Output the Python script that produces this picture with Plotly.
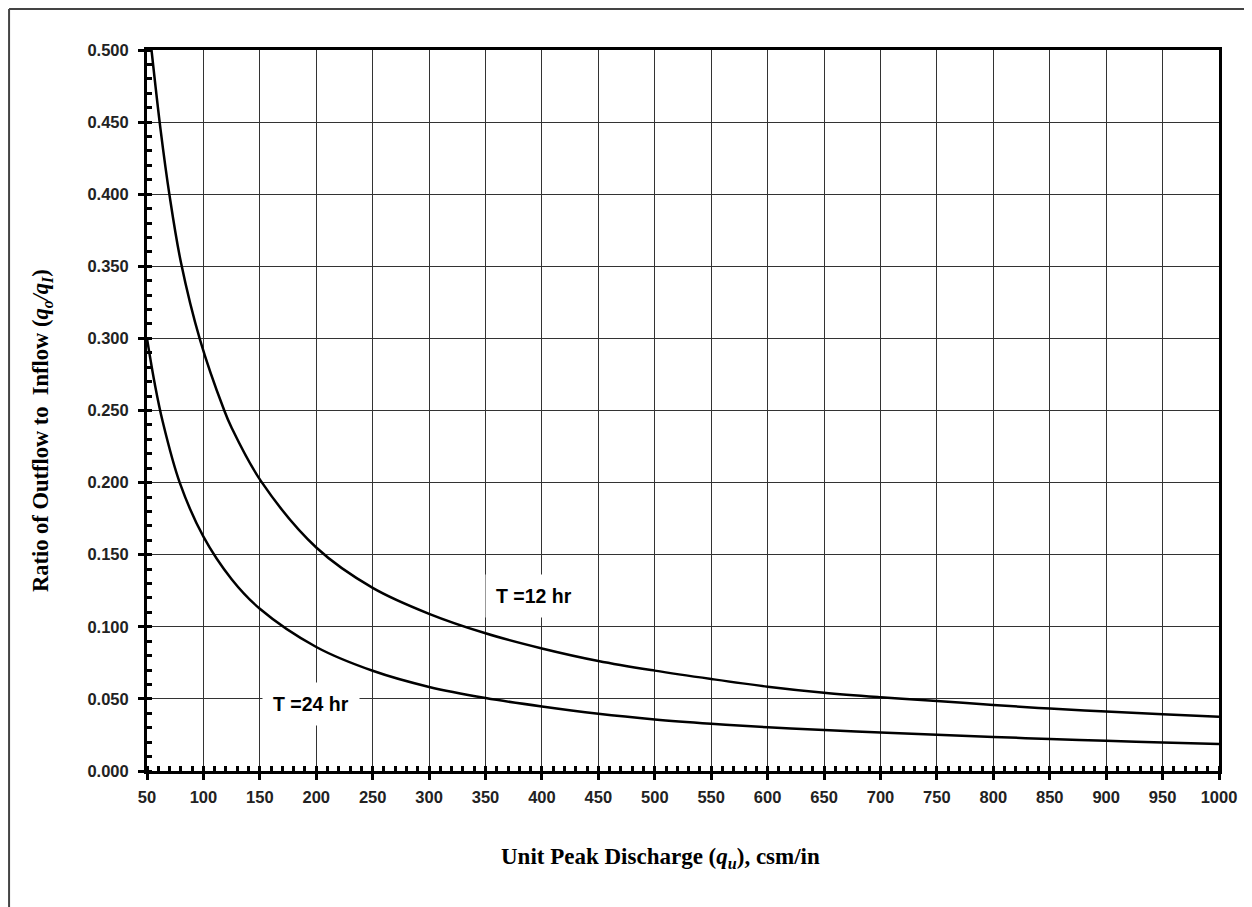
import plotly.graph_objects as go

# T = 12 hr curve
x12 = [54, 62, 70, 80, 97, 118, 125, 151, 200, 250, 300, 350, 400, 450, 500, 550,
       600, 650, 700, 750, 800, 850, 900, 950, 1000]
y12 = [0.500, 0.445, 0.399, 0.353, 0.299, 0.251, 0.238, 0.201, 0.155, 0.127, 0.109,
       0.0955, 0.085, 0.0763, 0.0696, 0.0638, 0.0585, 0.0543, 0.0512, 0.0486,
       0.0458, 0.0433, 0.0412, 0.0394, 0.0377]

# T = 24 hr curve
x24 = [50, 57, 64, 79, 100, 125, 150, 200, 250, 300, 350, 400, 450, 500, 550, 600,
       650, 700, 750, 800, 850, 900, 950, 1000]
y24 = [0.300, 0.268, 0.242, 0.200, 0.1625, 0.133, 0.1125, 0.0860, 0.0695, 0.0583, 0.0506,
       0.0447, 0.0397, 0.0358, 0.0328, 0.0303, 0.0284, 0.0267, 0.0251, 0.0236,
       0.0222, 0.0210, 0.0198, 0.0187]

labels = ["T =12 hr", "T =24 hr"]
label_x = [393, 195]
label_y = [0.1214, 0.0468]

# plot-area geometry (figure pixels; the page adds an 8px body margin)
W, H = 1244, 899
L, T, R, B = 139, 42, 32.5, 136
PW, PH = W - L - R, H - T - B

def px(xp):
    return (xp - L) / PW

def py(yp):
    return (H - B - yp) / PH

fig = go.Figure()
fig.add_trace(go.Scatter(x=x12, y=y12, mode="lines", name=labels[0],
                         line=dict(color="black", width=2.5, shape="spline", smoothing=1.0)))
fig.add_trace(go.Scatter(x=x24, y=y24, mode="lines", name=labels[1],
                         line=dict(color="black", width=2.5, shape="spline", smoothing=1.0)))

for t, lx, ly in zip(labels, label_x, label_y):
    fig.add_annotation(x=lx, y=ly, xref="x", yref="y", text=t, showarrow=False,
                       bgcolor="white", borderpad=10,
                       font=dict(family="Liberation Sans", size=19.5, color="black", weight="bold"))

tickfont = dict(family="Liberation Sans", size=16.5, color="#222", weight="bold")

fig.update_xaxes(range=[50, 1000], tick0=50, dtick=50, showgrid=True,
                 gridcolor="#333", gridwidth=1.4, zeroline=False,
                 showline=True, linecolor="black", linewidth=3, mirror=True,
                 ticks="outside", ticklen=6, tickwidth=2.5, tickcolor="black",
                 tickfont=tickfont, ticklabelstandoff=3,
                 minor=dict(dtick=10, ticks="inside", ticklen=5, tickwidth=2.5,
                            tickcolor="black", showgrid=False))
fig.update_yaxes(range=[0, 0.5], tick0=0, dtick=0.05, tickformat=".3f", showgrid=True,
                 gridcolor="#333", gridwidth=1.4, zeroline=False,
                 showline=True, linecolor="black", linewidth=3, mirror=True,
                 ticks="outside", ticklen=6, tickwidth=2.5, tickcolor="black",
                 tickfont=tickfont, ticklabelstandoff=6,
                 minor=dict(dtick=0.01, ticks="inside", ticklen=5, tickwidth=2.5,
                            tickcolor="black", showgrid=False))

fig.add_annotation(xref="paper", yref="paper", x=px(661 - 8), y=py(858 - 8),
                   text="Unit Peak Discharge (<i>q<sub>u</sub></i>), csm/in",
                   showarrow=False,
                   font=dict(family="Liberation Serif", size=23, color="black", weight="bold"),
                   xanchor="center", yanchor="middle")
fig.add_annotation(xref="paper", yref="paper", x=px(42 - 8), y=py(431 - 8),
                   text="Ratio of Outflow to  Inflow (<i>q<sub>o</sub>/q<sub>I</sub></i>)",
                   showarrow=False,
                   font=dict(family="Liberation Serif", size=22.5, color="black", weight="bold"),
                   textangle=-90, xanchor="center", yanchor="middle")

# outer frame (left and top edges visible)
fig.add_shape(type="line", xref="paper", yref="paper",
              x0=px(1), x1=px(1), y0=py(1), y1=py(H + 10),
              line=dict(color="#444", width=2))
fig.add_shape(type="line", xref="paper", yref="paper",
              x0=px(1), x1=px(W + 10), y0=py(1), y1=py(1),
              line=dict(color="#444", width=2))

fig.update_layout(width=W, height=H, showlegend=False,
                  paper_bgcolor="white", plot_bgcolor="white",
                  margin=dict(l=L, r=R, t=T, b=B))

fig.write_html("out.html")
